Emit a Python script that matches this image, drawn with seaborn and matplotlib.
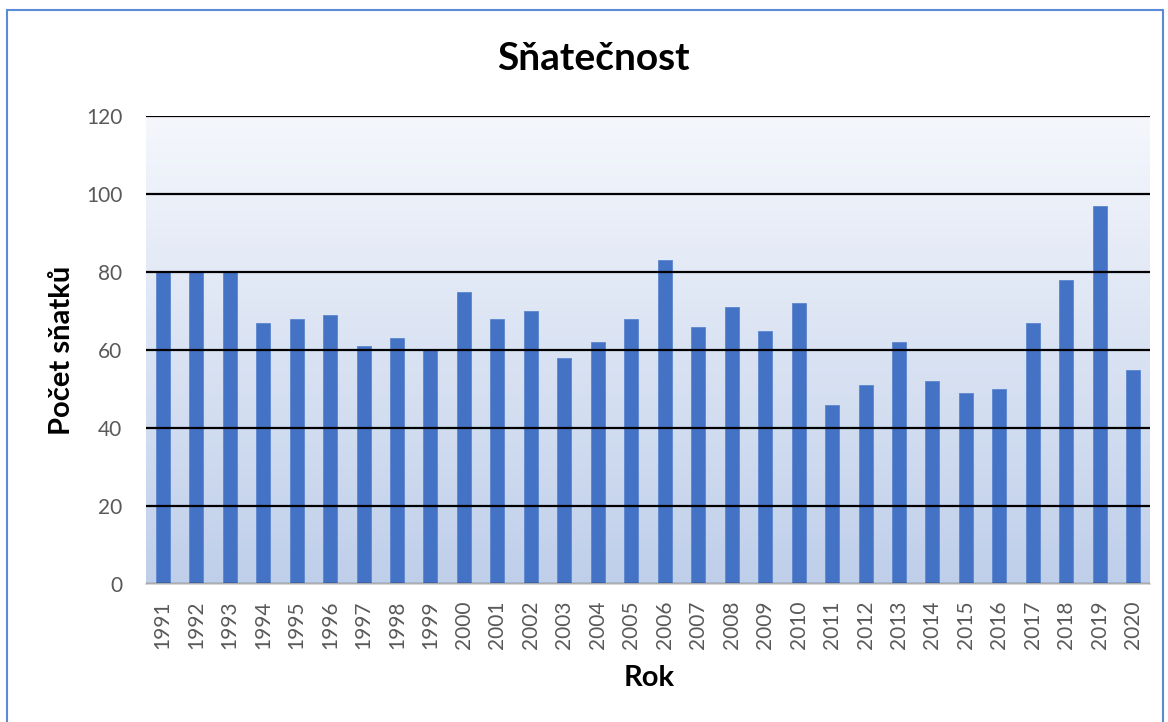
import numpy as np
import pandas as pd
import matplotlib.pyplot as plt
import matplotlib as mpl
import seaborn as sns

# data
YEARS = [str(y) for y in range(1991, 2021)]
MARRIAGES = [80, 80, 80, 67, 68, 69, 61, 63, 60, 75,
             68, 70, 58, 62, 68, 83, 66, 71, 65, 72,
             46, 51, 62, 52, 49, 50, 67, 78, 97, 55]
YTICKS = [0, 20, 40, 60, 80, 100, 120]

sns.set_style('white')
plt.rcParams['font.family'] = ['Lato', 'DejaVu Sans']

df = pd.DataFrame({'Rok': YEARS, 'Počet sňatků': MARRIAGES})

W, H = 1168, 722
fig = plt.figure(figsize=(W / 100, H / 100), dpi=100)
ax = fig.add_axes([146 / W, 1 - 584 / H, (1150 - 146) / W, (584 - 116) / H])

# gradient background of the plot area
grad = np.linspace(0, 1, 256).reshape(-1, 1)
cmap = mpl.colors.LinearSegmentedColormap.from_list('bg', ['#f5f7fc', '#bfcfea'])
ax.imshow(grad, aspect='auto', cmap=cmap, extent=[0, 1, 0, 1],
          transform=ax.transAxes, zorder=0)

sns.barplot(data=df, x='Rok', y='Počet sňatků', color='#4472c4', width=0.42,
            saturation=1, ax=ax, zorder=2, edgecolor='#5b86cf', linewidth=0.6)

ax.set_xlim(-0.5, len(YEARS) - 0.5)
ax.set_ylim(0, 120)
ax.set_yticks(YTICKS)
ax.yaxis.grid(True, color='black', linewidth=1.6, zorder=3)
ax.set_axisbelow(False)
for sp in ['top', 'right', 'left']:
    ax.spines[sp].set_visible(False)
ax.spines['bottom'].set_color('#d0d0d0')
ax.spines['bottom'].set_linewidth(1.2)
ax.spines['bottom'].set_zorder(4)
ax.tick_params(axis='both', length=0, labelsize=15, labelcolor='#595959')
ax.tick_params(axis='x', rotation=90, pad=12)
ax.tick_params(axis='y', pad=17)

fig.text(593 / W, 1 - 58 / H, 'Sňatečnost', fontsize=28, fontweight='bold',
         ha='center', va='center', color='black')
ax.set_xlabel('Rok', fontsize=21, fontweight='bold', color='black')
ax.set_ylabel('Počet sňatků', fontsize=21, fontweight='bold', color='black')
ax.xaxis.set_label_coords((649 - 146) / (1150 - 146), -(678 - 584) / (584 - 116))
ax.yaxis.set_label_coords(-(146 - 62) / (1150 - 146), (584 - 350) / (584 - 116))
ax.xaxis.label.set_va('center')
ax.yaxis.label.set_va('center')

# chart border (bottom edge runs off the image)
fig.patches.append(mpl.patches.Rectangle((7 / W, -10 / H), 1156 / W, 722 / H,
                                         transform=fig.transFigure, fill=False,
                                         edgecolor='#5b8bd6', linewidth=1.5))

fig.savefig('out.png', dpi=100)
